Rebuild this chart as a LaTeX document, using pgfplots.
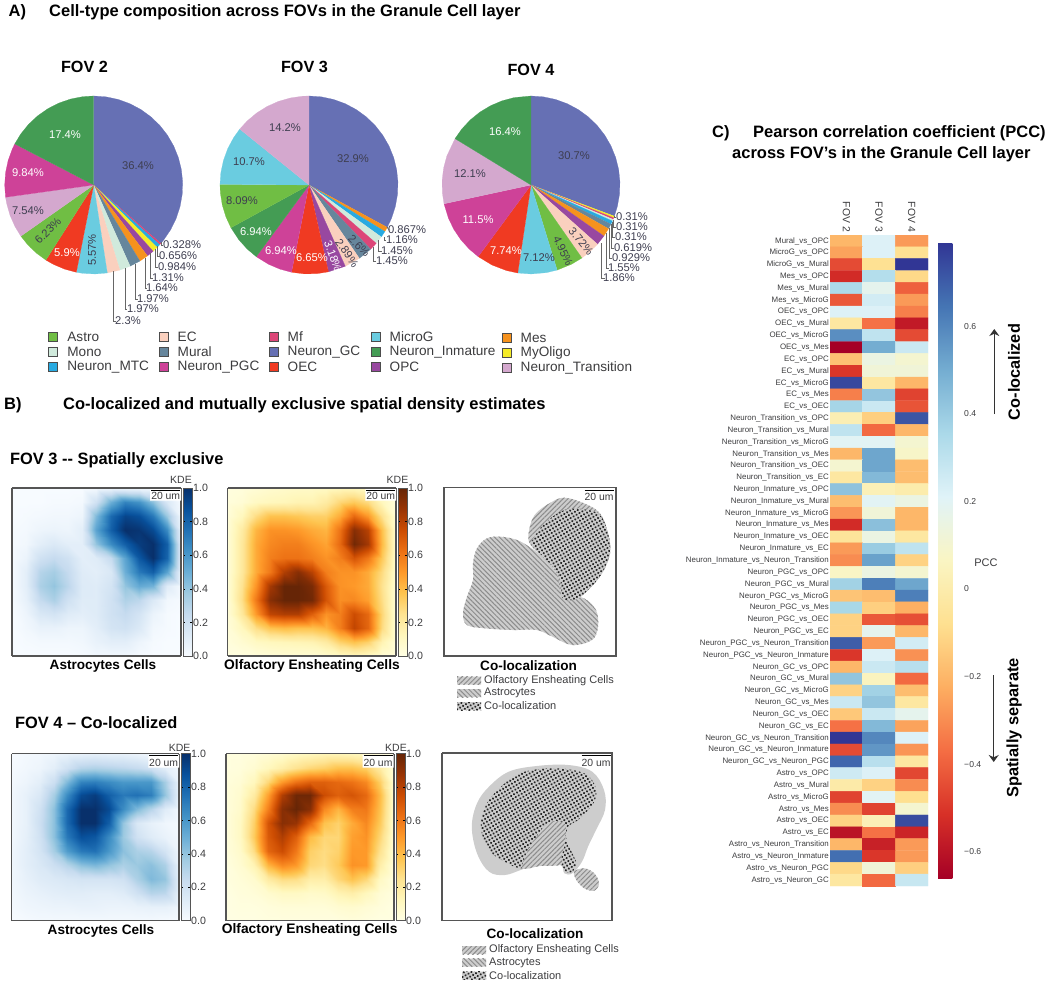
\documentclass[border=0pt]{standalone}
\usepackage{fontspec}
\setmainfont{Liberation Sans}
\usepackage{pgfplots}
\usepackage{pgfplotstable}
\pgfplotsset{compat=1.18}
\usepgfplotslibrary{polar}
\usetikzlibrary{patterns.meta,arrows.meta}

\definecolor{cGC}{RGB}{102,112,180}
\definecolor{cInm}{RGB}{68,156,84}
\definecolor{cPGC}{RGB}{206,66,152}
\definecolor{cTr}{RGB}{212,168,206}
\definecolor{cAstro}{RGB}{112,190,68}
\definecolor{cOEC}{RGB}{240,58,34}
\definecolor{cMicro}{RGB}{106,204,224}
\definecolor{cEC}{RGB}{250,208,190}
\definecolor{cMono}{RGB}{208,234,220}
\definecolor{cMural}{RGB}{102,134,156}
\definecolor{cMes}{RGB}{246,146,30}
\definecolor{cOPC}{RGB}{152,72,160}
\definecolor{cMyo}{RGB}{245,236,40}
\definecolor{cMTC}{RGB}{40,170,225}
\definecolor{cMf}{RGB}{220,70,120}
\definecolor{txt}{RGB}{60,60,62}
\definecolor{pctdark}{RGB}{62,62,80}
\definecolor{frame}{RGB}{85,85,85}
\definecolor{hgray}{RGB}{205,205,205}

\pgfplotsset{
  colormap={rdylbu}{rgb255=(165,0,38) rgb255=(215,48,39) rgb255=(244,109,67) rgb255=(253,174,97) rgb255=(254,224,144) rgb255=(250,245,195) rgb255=(224,243,248) rgb255=(171,217,233) rgb255=(116,173,209) rgb255=(69,117,180) rgb255=(49,54,149)},
  colormap={blues}{rgb255=(247,251,255) rgb255=(222,235,247) rgb255=(198,219,239) rgb255=(158,202,225) rgb255=(107,174,214) rgb255=(66,146,198) rgb255=(33,113,181) rgb255=(8,81,156) rgb255=(8,48,107)},
  colormap={ylorbr}{rgb255=(255,255,229) rgb255=(255,247,188) rgb255=(254,227,145) rgb255=(254,196,79) rgb255=(254,153,41) rgb255=(236,112,20) rgb255=(204,76,2) rgb255=(153,52,4) rgb255=(102,37,6)},
  pie/.style={fill=#1,draw=#1,line width=.2pt},
  pieaxis/.style={at={(#1pt,800pt)},anchor=center,scale only axis,width=178pt,height=178pt,
    xmin=0,xmax=360,ymin=0,ymax=1,hide axis,clip=false},
  kde/.style n args={5}{at={(#1pt,#2pt)},anchor=south west,scale only axis,width=#3pt,height=#4pt,
    colormap name=#5,view={0}{90},xmin=0,xmax=12,ymin=0,ymax=12,zmin=0,zmax=1,
    point meta min=0,point meta max=1,xtick=\empty,ytick=\empty,ztick=\empty,
    axis line style={draw=frame,line width=1.1pt},
    colorbar right,
    colorbar style={at={(parent axis.north east)},anchor=north west,xshift=-6.5pt,scale only axis,
      width=9pt,height=#4pt,ytick={0,0.2,0.4,0.6,0.8,1},yticklabels={0.0,0.2,0.4,0.6,0.8,1.0},
      axis line style={draw=frame,line width=.9pt},major tick length=2pt,tick style={draw=black,line width=.5pt},
      yticklabel style={font=\fontsize{10.6}{12}\selectfont,text=txt,inner sep=1pt}}},
  kdesurf/.style={surf,shader=interp,mesh/cols=13},
  table/kdetab/.style={x index=0,y index=0,z index=0,x expr={mod(\coordindex,13)},y expr={12-floor((\coordindex+0.5)/13)},z expr={\thisrowno{0}}},
  stripesNE/.style={fill=hgray,draw=none,postaction={pattern={Lines[angle=45,distance=3.4pt,line width=1pt]},pattern color=black!45}},
  stripesNW/.style={fill=hgray,draw=none,postaction={pattern={Lines[angle=-45,distance=3.4pt,line width=1pt]},pattern color=black!45}},
  dotted/.style={fill=hgray,draw=none,postaction={pattern={Dots[angle=30,distance=3.4pt,radius=1.2pt]},pattern color=black!85}},
  leader/.style={draw=black!60,line width=.8pt},
}

% KDE grids, 13 x 13, top row first
\pgfplotstableread[row sep=\\,header=false]{
0\\0\\0\\0\\0\\0\\.02\\.04\\.04\\.03\\.02\\.01\\0\\
0\\0\\0\\.01\\.01\\.02\\.2\\.5\\.68\\.62\\.42\\.15\\.01\\
0\\.01\\.02\\.03\\.03\\.05\\.45\\.78\\.92\\.88\\.72\\.38\\.03\\
.01\\.02\\.05\\.06\\.05\\.1\\.55\\.82\\1\\.98\\.9\\.65\\.07\\
.01\\.03\\.1\\.14\\.1\\.1\\.4\\.65\\.82\\.95\\1\\.82\\.1\\
.01\\.06\\.2\\.25\\.2\\.1\\.12\\.25\\.55\\.85\\1\\.8\\.1\\
.01\\.1\\.3\\.35\\.25\\.12\\.1\\.15\\.5\\.72\\.82\\.55\\.05\\
.01\\.1\\.33\\.4\\.28\\.13\\.12\\.18\\.4\\.52\\.48\\.12\\.02\\
.01\\.08\\.25\\.33\\.2\\.12\\.12\\.2\\.32\\.28\\.14\\.03\\.01\\
0\\.05\\.15\\.18\\.12\\.1\\.12\\.2\\.25\\.18\\.06\\.01\\0\\
0\\.03\\.07\\.07\\.05\\.05\\.1\\.18\\.2\\.14\\.03\\.01\\0\\
0\\.01\\.02\\.02\\.02\\.03\\.07\\.1\\.1\\.05\\.01\\0\\0\\
0\\0\\0\\0\\0\\.01\\.03\\.03\\.03\\.01\\0\\0\\0\\
}\kdeAstroA
\pgfplotstableread[row sep=\\,header=false]{
.02\\.03\\.05\\.07\\.08\\.09\\.09\\.1\\.12\\.12\\.1\\.05\\.02\\
.03\\.05\\.1\\.12\\.13\\.15\\.15\\.2\\.3\\.35\\.28\\.12\\.03\\
.04\\.12\\.28\\.38\\.38\\.36\\.33\\.33\\.45\\.65\\.5\\.25\\.05\\
.05\\.2\\.42\\.52\\.52\\.5\\.45\\.42\\.62\\.92\\.8\\.38\\.07\\
.05\\.22\\.45\\.55\\.58\\.58\\.52\\.47\\.65\\.97\\.85\\.4\\.07\\
.05\\.22\\.45\\.58\\.62\\.62\\.58\\.52\\.58\\.72\\.6\\.35\\.07\\
.05\\.22\\.45\\.6\\.82\\.92\\.8\\.58\\.52\\.52\\.45\\.28\\.06\\
.05\\.25\\.52\\.85\\1\\1\\.95\\.7\\.52\\.5\\.45\\.25\\.05\\
.05\\.27\\.6\\.92\\1\\1\\.97\\.72\\.53\\.55\\.48\\.27\\.05\\
.05\\.22\\.5\\.78\\.82\\.82\\.68\\.52\\.58\\.75\\.65\\.3\\.05\\
.04\\.12\\.27\\.37\\.4\\.38\\.38\\.42\\.58\\.78\\.66\\.28\\.05\\
.03\\.06\\.1\\.12\\.13\\.14\\.15\\.2\\.32\\.38\\.32\\.15\\.04\\
.02\\.02\\.03\\.04\\.05\\.05\\.05\\.07\\.1\\.12\\.1\\.05\\.02\\
}\kdeOlfA
\pgfplotstableread[row sep=\\,header=false]{
0\\.02\\.03\\.05\\.07\\.08\\.09\\.08\\.08\\.06\\.04\\.02\\0\\
.01\\.03\\.05\\.1\\.2\\.3\\.32\\.3\\.28\\.25\\.2\\.1\\.03\\
.02\\.05\\.1\\.22\\.45\\.68\\.7\\.65\\.6\\.6\\.6\\.35\\.07\\
.03\\.08\\.15\\.35\\.65\\.9\\.95\\.82\\.72\\.75\\.7\\.4\\.08\\
.03\\.08\\.2\\.42\\.78\\1\\1\\.9\\.65\\.45\\.3\\.12\\.03\\
.03\\.08\\.22\\.42\\.78\\1\\1\\.82\\.4\\.15\\.08\\.04\\.02\\
.03\\.09\\.2\\.42\\.72\\.88\\.85\\.65\\.38\\.2\\.12\\.07\\.03\\
.04\\.1\\.18\\.35\\.58\\.72\\.75\\.6\\.42\\.33\\.3\\.18\\.05\\
.04\\.1\\.15\\.22\\.3\\.42\\.46\\.4\\.33\\.38\\.42\\.33\\.08\\
.04\\.08\\.12\\.14\\.16\\.18\\.18\\.18\\.2\\.33\\.45\\.4\\.1\\
.03\\.06\\.08\\.1\\.11\\.11\\.1\\.1\\.12\\.2\\.3\\.28\\.08\\
.02\\.04\\.05\\.06\\.06\\.07\\.07\\.06\\.06\\.07\\.08\\.08\\.04\\
0\\.01\\.02\\.02\\.02\\.02\\.02\\.02\\.02\\.02\\.02\\.01\\0\\
}\kdeAstroB
\pgfplotstableread[row sep=\\,header=false]{
.02\\.02\\.03\\.05\\.07\\.1\\.12\\.14\\.14\\.13\\.12\\.08\\.03\\
.02\\.03\\.06\\.12\\.18\\.25\\.3\\.33\\.38\\.38\\.33\\.2\\.04\\
.03\\.05\\.12\\.3\\.5\\.62\\.68\\.68\\.65\\.62\\.55\\.33\\.06\\
.03\\.07\\.2\\.48\\.82\\.98\\.98\\.75\\.68\\.72\\.65\\.4\\.06\\
.03\\.08\\.28\\.58\\.92\\1\\.92\\.55\\.42\\.58\\.6\\.38\\.06\\
.03\\.1\\.33\\.72\\.92\\.88\\.65\\.38\\.32\\.45\\.55\\.35\\.05\\
.03\\.1\\.35\\.7\\.82\\.68\\.4\\.3\\.3\\.48\\.52\\.3\\.05\\
.03\\.08\\.28\\.66\\.75\\.6\\.33\\.28\\.32\\.5\\.5\\.25\\.04\\
.02\\.06\\.15\\.42\\.55\\.5\\.3\\.27\\.35\\.52\\.5\\.18\\.03\\
.02\\.04\\.07\\.2\\.28\\.27\\.18\\.18\\.3\\.38\\.3\\.1\\.02\\
.01\\.03\\.04\\.07\\.1\\.1\\.08\\.09\\.15\\.18\\.12\\.05\\.02\\
.01\\.02\\.02\\.03\\.04\\.04\\.04\\.04\\.06\\.07\\.05\\.03\\.01\\
.01\\.01\\.01\\.02\\.02\\.02\\.02\\.02\\.02\\.03\\.02\\.01\\.01\\
}\kdeOlfB

% PCC heat map, 55 rows x FOV 2, 3, 4
\pgfplotstableread[row sep=\\,header=false]{
-0.2\\.22\\-0.27\\
-0.25\\.22\\-0.07\\
-0.45\\-0.07\\.79\\
-0.53\\.33\\-0.1\\
.35\\.18\\-0.4\\
-0.42\\.25\\-0.27\\
.22\\.22\\-0.33\\
-0.03\\-0.36\\-0.58\\
.58\\.3\\-0.45\\
-0.66\\.5\\.27\\
-0.17\\.15\\.1\\
-0.5\\.12\\.12\\
.75\\-0.03\\-0.2\\
-0.33\\.42\\-0.47\\
.37\\.27\\-0.43\\
.02\\-0.13\\.72\\
.3\\-0.38\\-0.2\\
.2\\.2\\.1\\
-0.2\\.52\\.08\\
.1\\.52\\-0.18\\
-0.03\\.46\\-0.18\\
.43\\.03\\0\\
-0.18\\.2\\.15\\
-0.28\\.12\\-0.2\\
-0.53\\.44\\-0.2\\
-0.05\\.15\\-0.03\\
-0.27\\.4\\.3\\
-0.3\\.53\\-0.12\\
.07\\.15\\.1\\
.38\\.62\\.52\\
-0.16\\-0.18\\.62\\
.36\\-0.13\\-0.22\\
-0.12\\-0.42\\-0.44\\
-0.12\\.18\\-0.2\\
.7\\-0.27\\.25\\
-0.5\\.22\\-0.29\\
-0.2\\.27\\.32\\
.42\\.05\\-0.38\\
-0.12\\.38\\-0.18\\
.27\\.42\\-0.03\\
-0.15\\.27\\.18\\
-0.36\\.46\\-0.25\\
.79\\.6\\.22\\
-0.45\\.56\\-0.28\\
.68\\.32\\-0.03\\
.26\\.22\\-0.46\\
-0.01\\-0.12\\-0.3\\
-0.47\\.2\\-0.08\\
-0.3\\-0.47\\.1\\
-0.12\\.03\\.74\\
-0.6\\-0.36\\-0.55\\
-0.2\\-0.56\\-0.27\\
.66\\-0.5\\-0.27\\
-0.1\\.12\\-0.13\\
-0.03\\-0.38\\.28\\
}\pccdata

\newcommand{\lab}[4][]{\node[inner sep=0pt,#1] at (axis cs:#2,#3) {#4};}
\newcommand{\pct}[4][]{\node[inner sep=0pt,text=pctdark,font=\fontsize{11.2}{12}\selectfont,#1] at (axis cs:#2,#3) {#4};}
\newcommand{\swatch}[5]{\addplot[#5] coordinates {(#1,#3)(#2,#3)(#2,#4)(#1,#4)(#1,#3)};}
\newcommand{\key}[4]{\addplot[fill=#3,draw=black!70,line width=.6pt] coordinates {(#1,#2-4.7)(#1+9,#2-4.7)(#1+9,#2+4.7)(#1,#2+4.7)(#1,#2-4.7)};\node[inner sep=0pt,anchor=west,text=txt,font=\fontsize{13.6}{15}\selectfont] at (axis cs:#1+18.5,#2) {#4};}
\newcommand{\bigc}{\fontsize{16.5}{18}\selectfont\bfseries}

\begin{document}
\begin{tikzpicture}
\useasboundingbox (0,0) rectangle (1049pt,985pt);

% pies
\begin{polaraxis}[pieaxis=93.7]
\addplot[pie=cGC] coordinates {(0,0)(90,1)(82,1)(74,1)(66,1)(58,1)(50,1)(42,1)(34,1)(26,1)(18,1)(10,1)(2,1)(-6,1)(-14,1)(-22,1)(-30,1)(-38,1)(-41.04,1)};
\addplot[pie=cMf] coordinates {(0,0)(-41.04,1)(-42.22,1)};
\addplot[pie=cMTC] coordinates {(0,0)(-42.22,1)(-44.58,1)};
\addplot[pie=cMyo] coordinates {(0,0)(-44.58,1)(-48.12,1)};
\addplot[pie=cOPC] coordinates {(0,0)(-48.12,1)(-52.84,1)};
\addplot[pie=cMes] coordinates {(0,0)(-52.84,1)(-58.74,1)};
\addplot[pie=cMural] coordinates {(0,0)(-58.74,1)(-65.84,1)};
\addplot[pie=cMono] coordinates {(0,0)(-65.84,1)(-72.93,1)};
\addplot[pie=cEC] coordinates {(0,0)(-72.93,1)(-81.21,1)};
\addplot[pie=cMicro] coordinates {(0,0)(-81.21,1)(-89,1)(-97,1)(-101.26,1)};
\addplot[pie=cOEC] coordinates {(0,0)(-101.26,1)(-109,1)(-117,1)(-122.5,1)};
\addplot[pie=cAstro] coordinates {(0,0)(-122.5,1)(-130,1)(-138,1)(-144.93,1)};
\addplot[pie=cTr] coordinates {(0,0)(-144.93,1)(-152,1)(-160,1)(-168,1)(-172.07,1)};
\addplot[pie=cPGC] coordinates {(0,0)(-172.07,1)(-180,1)(-188,1)(-196,1)(-204,1)(-207.5,1)};
\addplot[pie=cInm] coordinates {(0,0)(-207.5,1)(-215,1)(-223,1)(-231,1)(-239,1)(-247,1)(-255,1)(-263,1)(-270,1)};
\end{polaraxis}
\begin{polaraxis}[pieaxis=309]
\addplot[pie=cGC] coordinates {(0,0)(90,1)(82,1)(74,1)(66,1)(58,1)(50,1)(42,1)(34,1)(26,1)(18,1)(10,1)(2,1)(-6,1)(-14,1)(-22,1)(-28.44,1)};
\addplot[pie=cMes] coordinates {(0,0)(-28.44,1)(-31.56,1)};
\addplot[pie=cMTC] coordinates {(0,0)(-31.56,1)(-35.74,1)};
\addplot[pie=cMono] coordinates {(0,0)(-35.74,1)(-40.96,1)};
\addplot[pie=cMf] coordinates {(0,0)(-40.96,1)(-46.18,1)};
\addplot[pie=cMural] coordinates {(0,0)(-46.18,1)(-55.54,1)};
\addplot[pie=cEC] coordinates {(0,0)(-55.54,1)(-65.94,1)};
\addplot[pie=cOPC] coordinates {(0,0)(-65.94,1)(-77.39,1)};
\addplot[pie=cOEC] coordinates {(0,0)(-77.39,1)(-85,1)(-93,1)(-101.33,1)};
\addplot[pie=cPGC] coordinates {(0,0)(-101.33,1)(-109,1)(-117,1)(-126.31,1)};
\addplot[pie=cInm] coordinates {(0,0)(-126.31,1)(-134,1)(-142,1)(-151.3,1)};
\addplot[pie=cAstro] coordinates {(0,0)(-151.3,1)(-159,1)(-167,1)(-175,1)(-180.42,1)};
\addplot[pie=cMicro] coordinates {(0,0)(-180.42,1)(-188,1)(-196,1)(-204,1)(-212,1)(-218.94,1)};
\addplot[pie=cTr] coordinates {(0,0)(-218.94,1)(-226,1)(-234,1)(-242,1)(-250,1)(-258,1)(-266,1)(-270,1)};
\end{polaraxis}
\begin{polaraxis}[pieaxis=531]
\addplot[pie=cGC] coordinates {(0,0)(90,1)(82,1)(74,1)(66,1)(58,1)(50,1)(42,1)(34,1)(26,1)(18,1)(10,1)(2,1)(-6,1)(-14,1)(-20.52,1)};
\addplot[pie=cMyo] coordinates {(0,0)(-20.52,1)(-21.64,1)};
\addplot[pie=cMf] coordinates {(0,0)(-21.64,1)(-22.75,1)};
\addplot[pie=cMono] coordinates {(0,0)(-22.75,1)(-23.87,1)};
\addplot[pie=cMTC] coordinates {(0,0)(-23.87,1)(-26.1,1)};
\addplot[pie=cMural] coordinates {(0,0)(-26.1,1)(-29.44,1)};
\addplot[pie=cMes] coordinates {(0,0)(-29.44,1)(-35.02,1)};
\addplot[pie=cOPC] coordinates {(0,0)(-35.02,1)(-41.72,1)};
\addplot[pie=cEC] coordinates {(0,0)(-41.72,1)(-49,1)(-55.11,1)};
\addplot[pie=cAstro] coordinates {(0,0)(-55.11,1)(-63,1)(-72.93,1)};
\addplot[pie=cMicro] coordinates {(0,0)(-72.93,1)(-80,1)(-90,1)(-98.56,1)};
\addplot[pie=cOEC] coordinates {(0,0)(-98.56,1)(-106,1)(-116,1)(-126.42,1)};
\addplot[pie=cPGC] coordinates {(0,0)(-126.42,1)(-134,1)(-142,1)(-150,1)(-158,1)(-167.82,1)};
\addplot[pie=cTr] coordinates {(0,0)(-167.82,1)(-175,1)(-183,1)(-191,1)(-199,1)(-211.38,1)};
\addplot[pie=cInm] coordinates {(0,0)(-211.38,1)(-219,1)(-227,1)(-235,1)(-243,1)(-251,1)(-259,1)(-270,1)};
\end{polaraxis}

% KDE panels
\begin{axis}[kde={12}{329}{169}{168}{blues}]
\addplot3[kdesurf] table[kdetab] {\kdeAstroA};
\end{axis}
\begin{axis}[kde={227.7}{329}{168.3}{168}{ylorbr}]
\addplot3[kdesurf] table[kdetab] {\kdeOlfA};
\end{axis}
\begin{axis}[kde={11.7}{64.3}{167.3}{167}{blues}]
\addplot3[kdesurf] table[kdetab] {\kdeAstroB};
\end{axis}
\begin{axis}[kde={226}{64.3}{168}{167}{ylorbr}]
\addplot3[kdesurf] table[kdetab] {\kdeOlfB};
\end{axis}

% PCC heat map
\begin{axis}[at={(830pt,99pt)},anchor=south west,scale only axis,width=98pt,height=651pt,
  xmin=-0.5,xmax=2.5,ymin=-0.5,ymax=54.5,y dir=reverse,axis line style={draw=none},
  colormap name=rdylbu,point meta min=-0.66,point meta max=0.79,
  major tick length=0pt,xtick={0,1,2},xticklabels={FOV 2,FOV 3,FOV 4},xticklabel pos=upper,
  xticklabel style={rotate=-90,anchor=east,font=\fontsize{10.4}{12}\selectfont,text=txt,inner sep=3pt},
  ytick={0,...,54},
  yticklabel style={font=\fontsize{7.9}{9}\selectfont,text=txt,inner sep=1pt},
  yticklabels={Mural\_vs\_OPC,MicroG\_vs\_OPC,MicroG\_vs\_Mural,Mes\_vs\_OPC,Mes\_vs\_Mural,Mes\_vs\_MicroG,OEC\_vs\_OPC,OEC\_vs\_Mural,OEC\_vs\_MicroG,OEC\_vs\_Mes,EC\_vs\_OPC,EC\_vs\_Mural,EC\_vs\_MicroG,EC\_vs\_Mes,EC\_vs\_OEC,Neuron\_Transition\_vs\_OPC,Neuron\_Transition\_vs\_Mural,Neuron\_Transition\_vs\_MicroG,Neuron\_Transition\_vs\_Mes,Neuron\_Transition\_vs\_OEC,Neuron\_Transition\_vs\_EC,Neuron\_Inmature\_vs\_OPC,Neuron\_Inmature\_vs\_Mural,Neuron\_Inmature\_vs\_MicroG,Neuron\_Inmature\_vs\_Mes,Neuron\_Inmature\_vs\_OEC,Neuron\_Inmature\_vs\_EC,Neuron\_Inmature\_vs\_Neuron\_Transition,Neuron\_PGC\_vs\_OPC,Neuron\_PGC\_vs\_Mural,Neuron\_PGC\_vs\_MicroG,Neuron\_PGC\_vs\_Mes,Neuron\_PGC\_vs\_OEC,Neuron\_PGC\_vs\_EC,Neuron\_PGC\_vs\_Neuron\_Transition,Neuron\_PGC\_vs\_Neuron\_Inmature,Neuron\_GC\_vs\_OPC,Neuron\_GC\_vs\_Mural,Neuron\_GC\_vs\_MicroG,Neuron\_GC\_vs\_Mes,Neuron\_GC\_vs\_OEC,Neuron\_GC\_vs\_EC,Neuron\_GC\_vs\_Neuron\_Transition,Neuron\_GC\_vs\_Neuron\_Inmature,Neuron\_GC\_vs\_Neuron\_PGC,Astro\_vs\_OPC,Astro\_vs\_Mural,Astro\_vs\_MicroG,Astro\_vs\_Mes,Astro\_vs\_OEC,Astro\_vs\_EC,Astro\_vs\_Neuron\_Transition,Astro\_vs\_Neuron\_Inmature,Astro\_vs\_Neuron\_PGC,Astro\_vs\_Neuron\_GC},
  colorbar right,
  colorbar style={at={(parent axis.north east)},anchor=north west,xshift=1.5pt,yshift=-8pt,scale only axis,
    width=24pt,height=635pt,axis line style={draw=none},major tick length=0pt,
    ytick={-0.6,-0.4,-0.2,0,0.2,0.4,0.6},yticklabels={−0.6,−0.4,−0.2,0,0.2,0.4,0.6},
    yticklabel style={font=\fontsize{8.6}{10}\selectfont,text=txt,inner sep=2pt}}]
\addplot[matrix plot*,mesh/cols=3,point meta=explicit] table[x index=0,y index=0,x expr={mod(\coordindex,3)},y expr={floor((\coordindex+0.5)/3)},meta expr={\thisrowno{0}}] {\pccdata};
\end{axis}

% everything in image pixels
\begin{axis}[at={(0,0)},anchor=south west,scale only axis,width=1049pt,height=985pt,
  xmin=0,xmax=1049,ymin=0,ymax=985,y dir=reverse,hide axis,clip=false]

\lab[anchor=west,font=\bigc]{8.5}{12}{A)}
\lab[anchor=west,font=\bigc]{49}{12}{Cell-type composition across FOVs in the Granule Cell layer}
\lab[anchor=west,font=\bigc]{4}{405.5}{B)}
\lab[anchor=west,font=\bigc]{63}{405.5}{Co-localized and mutually exclusive spatial density estimates}
\lab[anchor=west,font=\bigc]{712}{133}{C)}
\lab[anchor=west,font=\bigc]{753}{133}{Pearson correlation coefficient (PCC)}
\lab[anchor=west,font=\bigc]{732}{154}{across FOV’s in the Granule Cell layer}
\lab[font=\fontsize{16.2}{18}\selectfont\bfseries]{84.5}{67}{FOV 2}
\lab[font=\fontsize{16.2}{18}\selectfont\bfseries]{304.5}{67}{FOV 3}
\lab[font=\fontsize{16.2}{18}\selectfont\bfseries]{531}{70}{FOV 4}
\lab[anchor=west,font=\fontsize{16.4}{18}\selectfont\bfseries]{10}{460}{FOV 3 -{}- Spatially exclusive}
\lab[anchor=west,font=\fontsize{16.4}{18}\selectfont\bfseries]{15}{723}{FOV 4 – Co-localized}

% pie labels, FOV 2
\pct{138}{166}{36.4\%}
\pct[text=white]{65}{135}{17.4\%}
\pct[text=white]{28}{173}{9.84\%}
\pct{28}{211}{7.54\%}
\pct[rotate=45]{48}{231}{6.23\%}
\pct[text=white]{67}{253}{5.9\%}
\pct[rotate=90]{92}{250}{5.57\%}
\pct{182}{245}{0.328\%}
\pct{178}{256}{0.656\%}
\pct{177}{267}{0.984\%}
\pct{168}{278}{1.31\%}
\pct{162}{288}{1.64\%}
\pct{153}{299}{1.97\%}
\pct{143}{309}{1.97\%}
\pct{128}{321}{2.3\%}
\addplot[leader] coordinates {(113,271)(113,321)(116,321)};
\addplot[leader] coordinates {(125,268)(125,309)(127,309)};
\addplot[leader] coordinates {(135,264)(135,299)(138,299)};
\addplot[leader] coordinates {(145,258)(145,288)(147,288)};
\addplot[leader] coordinates {(150,253)(150,278)(153,278)};
\addplot[leader] coordinates {(155,249)(155,267)(158,267)};
\addplot[leader] coordinates {(157,246)(157,256)(160,256)};
\addplot[leader] coordinates {(161,242)(161,245)(163,245)};

% FOV 3
\pct{353}{159}{32.9\%}
\pct{285}{128}{14.2\%}
\pct{249}{162}{10.7\%}
\pct{242}{201}{8.09\%}
\pct[text=white]{256}{232}{6.94\%}
\pct[text=white]{281}{251}{6.94\%}
\pct[text=white]{312}{258}{6.65\%}
\pct[text=white,rotate=-70]{333}{256}{3.18\%}
\pct[rotate=-55]{347}{253}{2.89\%}
\pct[rotate=-45]{359}{246}{2.6\%}
\pct{407}{230}{0.867\%}
\pct{402}{240}{1.16\%}
\pct{397}{251}{1.45\%}
\pct{392}{261}{1.45\%}
\addplot[leader] coordinates {(387,227)(389,230)(390,230)};
\addplot[leader] coordinates {(384,237)(384,240)(386,240)};
\addplot[leader] coordinates {(378,240)(378,251)(382,251)};
\addplot[leader] coordinates {(373,247)(373,261)(376,261)};

% FOV 4
\pct{574}{156}{30.7\%}
\pct[text=white]{505}{132}{16.4\%}
\pct{470}{174}{12.1\%}
\pct[text=white]{478}{220}{11.5\%}
\pct[text=white]{506}{251}{7.74\%}
\pct{539}{258}{7.12\%}
\pct[rotate=-65]{563}{251}{4.95\%}
\pct[rotate=-50]{581}{241}{3.72\%}
\pct{632}{217}{0.31\%}
\pct{632}{227}{0.31\%}
\pct{631}{237}{0.31\%}
\pct{633}{248}{0.619\%}
\pct{631}{258}{0.929\%}
\pct{624}{268}{1.55\%}
\pct{619}{278}{1.86\%}
\addplot[leader] coordinates {(614,216)(614,217)(616,217)};
\addplot[leader] coordinates {(613,220)(613,227)(616,227)};
\addplot[leader] coordinates {(612,222)(612,237)(615,237)};
\addplot[leader] coordinates {(611,224)(611,248)(614,248)};
\addplot[leader] coordinates {(609,228)(609,258)(612,258)};
\addplot[leader] coordinates {(606,233)(606,268)(609,268)};
\addplot[leader] coordinates {(601,243)(601,278)(605,278)};

% pie legend
\key{48.7}{337}{cAstro}{Astro}
\key{48.7}{352}{cMono}{Mono}
\key{48.7}{367}{cMTC}{Neuron\_MTC}
\key{159}{337}{cEC}{EC}
\key{159}{352}{cMural}{Mural}
\key{159}{367}{cPGC}{Neuron\_PGC}
\key{269}{337}{cMf}{Mf}
\key{269}{352}{cGC}{Neuron\_GC}
\key{269}{367}{cOEC}{OEC}
\key{371}{337}{cMicro}{MicroG}
\key{371}{352}{cInm}{Neuron\_Inmature}
\key{371}{367}{cOPC}{OPC}
\key{502}{338}{cMes}{Mes}
\key{502}{353}{cMyo}{MyOligo}
\key{502}{368}{cTr}{Neuron\_Transition}

% KDE annotations
\lab[font=\fontsize{10.5}{12}\selectfont,text=txt]{181}{480}{KDE}
\lab[font=\fontsize{10.5}{12}\selectfont,text=txt]{397.5}{480}{KDE}
\lab[font=\fontsize{10.5}{12}\selectfont,text=txt]{179.6}{748}{KDE}
\lab[font=\fontsize{10.5}{12}\selectfont,text=txt]{396}{748}{KDE}
\swatch{150}{181}{489}{500.7}{fill=white,draw=none}
\swatch{365.3}{396}{489}{500.7}{fill=white,draw=none}
\swatch{148.3}{179}{754.5}{767.7}{fill=white,draw=none}
\swatch{362.7}{393.7}{754.5}{767.7}{fill=white,draw=none}
\addplot[black,line width=1pt] coordinates {(151,490)(180,490)};
\addplot[black,line width=1pt] coordinates {(366.3,490)(395.3,490)};
\addplot[black,line width=1pt] coordinates {(149.3,755.5)(178.3,755.5)};
\addplot[black,line width=1pt] coordinates {(363.7,755.5)(392.7,755.5)};
\addplot[black,line width=1pt] coordinates {(584.5,490)(613.5,490)};
\addplot[black,line width=1pt] coordinates {(581.5,755.5)(610.5,755.5)};
\lab[font=\fontsize{10.4}{12}\selectfont,text=txt]{165.7}{496}{20 um}
\lab[font=\fontsize{10.4}{12}\selectfont,text=txt]{380.7}{496}{20 um}
\lab[font=\fontsize{10.4}{12}\selectfont,text=txt]{163.7}{762.5}{20 um}
\lab[font=\fontsize{10.4}{12}\selectfont,text=txt]{378}{762.5}{20 um}
\lab[font=\fontsize{10.4}{12}\selectfont,text=txt]{599}{497}{20 um}
\lab[font=\fontsize{10.4}{12}\selectfont,text=txt]{596}{762.5}{20 um}

\lab[font=\fontsize{13.6}{15}\selectfont\bfseries]{103}{666}{Astrocytes Cells}
\lab[font=\fontsize{13.8}{15}\selectfont\bfseries]{312}{666}{Olfactory Ensheating Cells}
\lab[font=\fontsize{13.6}{15}\selectfont\bfseries]{528.6}{666}{Co-localization}
\lab[font=\fontsize{13.6}{15}\selectfont\bfseries]{101}{931}{Astrocytes Cells}
\lab[font=\fontsize{13.8}{15}\selectfont\bfseries]{309.7}{930}{Olfactory Ensheating Cells}
\lab[font=\fontsize{13.6}{15}\selectfont\bfseries]{535}{934}{Co-localization}

% co-localization panels
\addplot[draw=frame,line width=1.1pt] coordinates {(444,487.3)(616,487.3)(616,656)(444,656)(444,487.3)};
\addplot[draw=frame,line width=1.1pt] coordinates {(442,753)(612,753)(612,920.7)(442,920.7)(442,753)};

\addplot[stripesNW,smooth cycle,tension=.6] coordinates {(463,613.3)(467,596.7)(473,580)(473,563.3)(477,548.3)(487,538.3)(501,536.7)(517,540)(529,546.7)(544.5,558.3)(556.5,573.3)(564.4,593.3)(584,598.3)(596,610)(598,626.7)(592,640)(572,645)(552.5,636.7)(536.6,630)(512.7,630)(485,628.3)(467,625)};
\addplot[stripesNE,smooth cycle,tension=.6] coordinates {(528.6,533.3)(534.6,515)(550.5,502.7)(564.4,497.7)(584,503.3)(600,513.3)(608,533.3)(610,553.3)(602,573.3)(588,590)(574,599.3)(562,596.7)(556.5,573.3)(544.5,558.3)(530.6,545)};
\addplot[dotted,smooth cycle,tension=.6] coordinates {(532.6,540)(544.5,523.3)(564.4,510)(584,509.3)(600,515)(608,533.3)(610,553.3)(602,573.3)(588,590)(576.3,599.3)(562.4,598.3)(561.2,583.3)(556.4,570)(544.5,558.3)(532.6,545)};

\addplot[fill=hgray,draw=none,smooth cycle,tension=.6] coordinates {(471.8,826.7)(477,803.3)(489,786.7)(508.7,771.7)(536.6,766)(568.4,765)(592.2,771.7)(604,790)(605,810)(596,830)(588,846.7)(582,861.7)(572.3,873.3)(564.4,873.3)(560.4,865)(540.5,863.3)(520.7,870)(504.8,875)(489,871.7)(477,853.3)};
\addplot[dotted,smooth cycle,tension=.6] coordinates {(480.9,826.7)(487,803.3)(504.8,783.3)(524.6,771.7)(556.4,768.3)(584.3,773.3)(595.4,786.7)(594.2,801.7)(580.3,818.3)(568.4,826.7)(566.4,840)(572.3,853.3)(576.3,863.3)(572.3,871.7)(564.4,871.7)(560.4,865)(540.5,865)(520.7,868.3)(504.8,861.7)(489,850)};
\addplot[stripesNE,smooth cycle,tension=.6] coordinates {(548.5,822.7)(564.4,823.3)(565.2,840)(561.2,858.3)(560.4,865)(540.5,866)(522.7,868.3)(526.6,853.3)(536.6,836.7)};
\addplot[stripesNE,smooth cycle,tension=.6] coordinates {(574.3,871.7)(584.3,868.3)(594.2,873.3)(599,883.3)(594.2,890.7)(584.3,888.3)(576.3,880)};

% hatch legends
\swatch{457}{481}{676.7}{684.7}{stripesNE}
\swatch{457}{481}{689}{697}{stripesNW}
\swatch{457}{481}{702}{710}{dotted}
\lab[anchor=west,font=\fontsize{11}{12}\selectfont,text=txt]{484}{680.7}{Olfactory Ensheating Cells}
\lab[anchor=west,font=\fontsize{11}{12}\selectfont,text=txt]{484}{693}{Astrocytes}
\lab[anchor=west,font=\fontsize{11}{12}\selectfont,text=txt]{484}{706}{Co-localization}
\swatch{462}{486}{946}{954}{stripesNE}
\swatch{462}{486}{958.7}{966.7}{stripesNW}
\swatch{462}{486}{971.7}{979.7}{dotted}
\lab[anchor=west,font=\fontsize{11}{12}\selectfont,text=txt]{489}{950}{Olfactory Ensheating Cells}
\lab[anchor=west,font=\fontsize{11}{12}\selectfont,text=txt]{489}{962.7}{Astrocytes}
\lab[anchor=west,font=\fontsize{11}{12}\selectfont,text=txt]{489}{975.7}{Co-localization}

% heat map side notes
\lab[font=\fontsize{11}{12}\selectfont,text=txt]{986}{563}{PCC}
\addplot[draw=black!80,line width=1.3pt,-{Stealth[length=7pt,width=10pt]}] coordinates {(994.3,414)(994.3,329)};
\addplot[draw=black!80,line width=1.3pt,-{Stealth[length=7pt,width=10pt]}] coordinates {(993.7,675)(993.7,762)};
\lab[rotate=90,font=\fontsize{16.3}{18}\selectfont\bfseries]{1014}{372}{Co-localized}
\lab[rotate=90,font=\fontsize{16.4}{18}\selectfont\bfseries]{1014}{728}{Spatially separate}
\end{axis}
\end{tikzpicture}
\end{document}
